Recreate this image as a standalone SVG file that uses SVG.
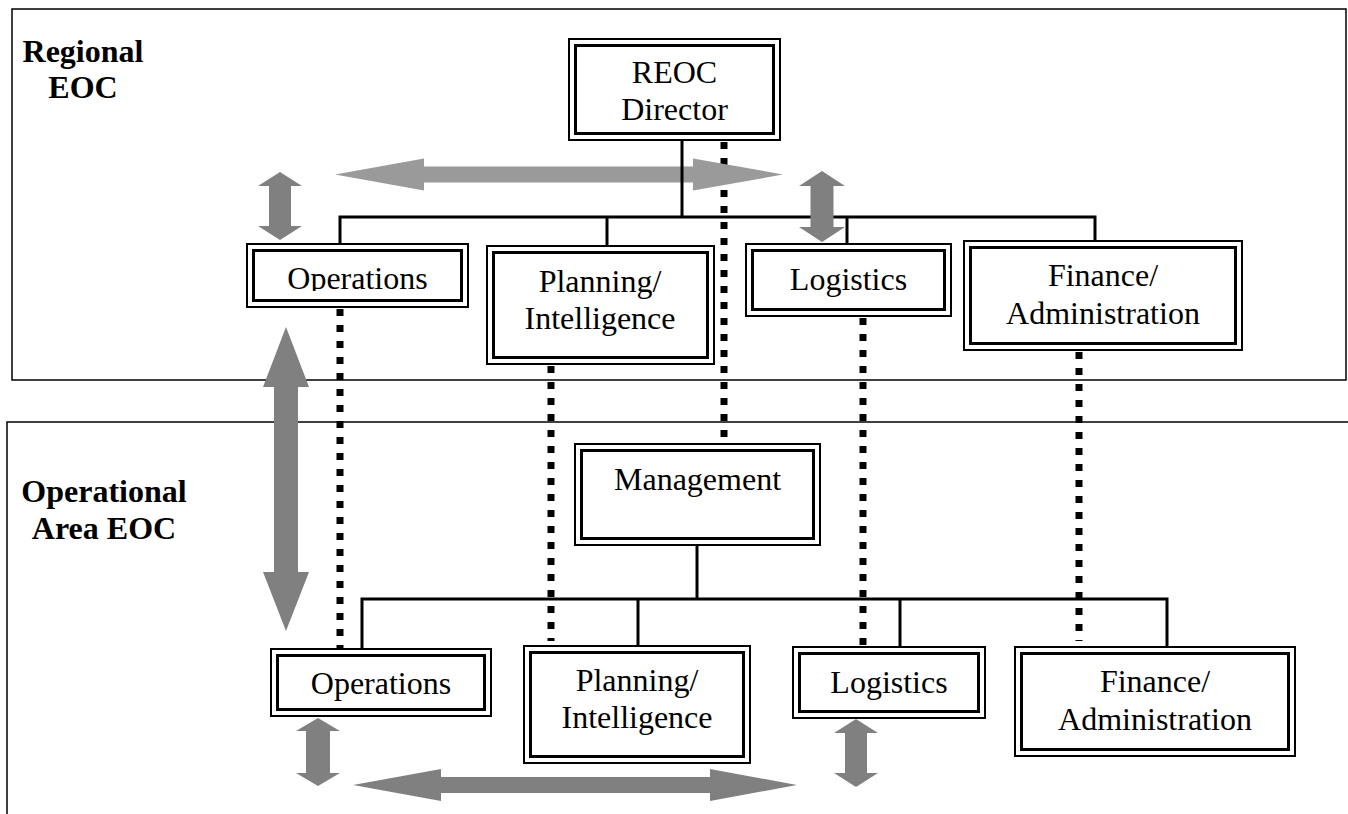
<svg xmlns="http://www.w3.org/2000/svg" width="1348" height="814" viewBox="0 0 1348 814">
<style>
.frame{fill:none;stroke:#000;stroke-width:1.5}
.o{fill:#fff;stroke:#000;stroke-width:2}
.i{fill:none;stroke:#000;stroke-width:3}
.t{font-family:"Liberation Serif","Times New Roman",serif;font-size:32px;fill:#000;text-anchor:middle}
.h{font-family:"Liberation Serif","Times New Roman",serif;font-size:32px;font-weight:bold;fill:#000;text-anchor:middle}
.sol{fill:none;stroke:#000;stroke-width:3}
.dot{fill:none;stroke:#000;stroke-width:7;stroke-dasharray:7 9}
.ar{fill:#808080}
.arl{fill:#9a9a9a}
</style>
<defs>
<clipPath id="clipOps"><rect x="250" y="250" width="215" height="41"/></clipPath>
</defs>

<g id="frames">
<rect class="frame" x="12" y="9" width="1334" height="371"/>
<path class="frame" d="M7,814 V422 H1348"/>
</g>

<g id="labels">
<text class="h" x="83" y="62">Regional</text>
<text class="h" x="83" y="98">EOC</text>
<text class="h" x="104" y="502">Operational</text>
<text class="h" x="104" y="539">Area EOC</text>
</g>

<g id="connectors">
<g id="dotted">
<line class="dot" x1="340" y1="309" x2="340" y2="648"/>
<line class="dot" x1="551" y1="366" x2="551" y2="641"/>
<line class="dot" x1="724" y1="142" x2="724" y2="443"/>
<line class="dot" x1="863" y1="318" x2="863" y2="646"/>
<line class="dot" x1="1079" y1="352" x2="1079" y2="641"/>
</g>
<polygon class="arl" points="335,174.5 424,158.5 424,166.5 693,166.5 693,158.5 783,174.5 693,190.5 693,182.5 424,182.5 424,190.5"/>
<g id="solid">
<path class="sol" d="M682,141 V217"/>
<path class="sol" d="M340,245 V217 H1095 V241"/>
<path class="sol" d="M607,217 V246"/>
<path class="sol" d="M847,217 V245"/>
<path class="sol" d="M697,546 V599"/>
<path class="sol" d="M362,648 V599 H1167 V646"/>
<path class="sol" d="M638,599 V645"/>
<path class="sol" d="M900,599 V646"/>
</g>
<g id="arrows">
<polygon class="ar" points="280,172 302,186 291,186 291,226 302,226 280,240 258,226 269,226 269,186 258,186"/>
<polygon class="ar" points="822,171 845,186 833.5,186 833.5,227 845,227 822,242 799,227 810.5,227 810.5,186 799,186"/>
<polygon class="ar" points="286,327 309,387 298,387 298,572 309,572 286,631 263,572 274,572 274,387 263,387"/>
<polygon class="ar" points="318,718 340,731 330,731 330,773 340,773 318,786 296,773 306,773 306,731 296,731"/>
<polygon class="ar" points="856,719 878,733 867,733 867,773 878,773 856,787 834,773 845,773 845,733 834,733"/>
<polygon class="ar" points="353,785 441,769 441,777 710,777 710,769 797,785 710,801 710,793 441,793 441,801"/>
</g>
</g>

<g id="node-reoc-director">
<rect class="o" x="569" y="39" width="211" height="101"/>
<rect class="i" x="575.5" y="45.5" width="198" height="88"/>
<text class="t" x="674.5" y="83">REOC</text>
<text class="t" x="674.5" y="120">Director</text>
</g>

<g id="node-reoc-operations">
<rect class="o" x="247" y="244" width="221" height="63"/>
<rect class="i" x="253.5" y="250.5" width="208" height="50"/>
<text class="t" x="357.5" y="289" clip-path="url(#clipOps)">Operations</text>
</g>

<g id="node-reoc-planning">
<rect class="o" x="487" y="246" width="227" height="118"/>
<rect class="i" x="493.5" y="252.5" width="214" height="105"/>
<text class="t" x="600" y="292">Planning/</text>
<text class="t" x="600" y="329">Intelligence</text>
</g>

<g id="node-reoc-logistics">
<rect class="o" x="746" y="244" width="205" height="72"/>
<rect class="i" x="752.5" y="250.5" width="192" height="59"/>
<text class="t" x="848.5" y="290">Logistics</text>
</g>

<g id="node-reoc-finance">
<rect class="o" x="964" y="241" width="278" height="109"/>
<rect class="i" x="970.5" y="247.5" width="265" height="96"/>
<text class="t" x="1103" y="286">Finance/</text>
<text class="t" x="1103" y="324">Administration</text>
</g>

<g id="node-management">
<rect class="o" x="575" y="444" width="245" height="101"/>
<rect class="i" x="581.5" y="450.5" width="232" height="88"/>
<text class="t" x="697.5" y="490">Management</text>
</g>

<g id="node-oa-operations">
<rect class="o" x="271" y="649" width="220" height="67"/>
<rect class="i" x="277.5" y="655.5" width="207" height="54"/>
<text class="t" x="381" y="694">Operations</text>
</g>

<g id="node-oa-planning">
<rect class="o" x="524" y="646" width="226" height="117"/>
<rect class="i" x="530.5" y="652.5" width="213" height="104"/>
<text class="t" x="637" y="691">Planning/</text>
<text class="t" x="637" y="728">Intelligence</text>
</g>

<g id="node-oa-logistics">
<rect class="o" x="793" y="647" width="192" height="71"/>
<rect class="i" x="799.5" y="653.5" width="179" height="58"/>
<text class="t" x="889" y="693">Logistics</text>
</g>

<g id="node-oa-finance">
<rect class="o" x="1015" y="647" width="280" height="109"/>
<rect class="i" x="1021.5" y="653.5" width="267" height="96"/>
<text class="t" x="1155" y="692">Finance/</text>
<text class="t" x="1155" y="730">Administration</text>
</g>
</svg>
